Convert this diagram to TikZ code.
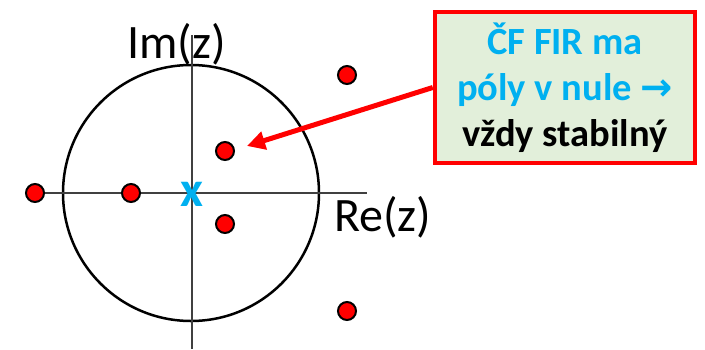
\documentclass[tikz,border=0pt]{standalone}
\usepackage{fontspec}
\setmainfont{Carlito}
\newfontfamily\symfont{DejaVu Sans}
\usetikzlibrary{arrows.meta}
\definecolor{pole-red}{HTML}{FF0000}
\definecolor{zero-blue}{HTML}{00B0F0}
\definecolor{note-green}{HTML}{E2EFDA}
\definecolor{axis-gray}{HTML}{404040}

\begin{document}
\begin{tikzpicture}[x=1pt, y=-1pt,
        every node/.style={inner sep=0pt},
        pole/.style={circle, draw=black, line width=2pt, fill=pole-red, minimum size=18pt},
        axislabel/.style={font=\fontsize{48}{56}\selectfont, anchor=base west},
        note/.style={draw=pole-red, line width=4.5pt, fill=note-green,
          minimum width=260pt, minimum height=151pt, align=center,
          font=\bfseries\fontsize{38.5}{46}\selectfont}]
      \useasboundingbox (0,0) rectangle (705,349);
      % z-plane
      \coordinate (o) at (191,193);
      \coordinate (re-start) at (35,193);
      \coordinate (re-end) at (367,193);
      \coordinate (im-top) at (192,35);
      \coordinate (im-bottom) at (192,349);
      \draw[line width=2.5pt] (o) circle (128pt);
      \draw[axis-gray, line width=1.4pt] (re-start) -- (re-end);
      \draw[axis-gray, line width=1.4pt] (im-top) -- (im-bottom);
      \node[axislabel] (im) at (127,58) {Im(z)};
      \node[axislabel] (re) at (334,231) {Re(z)};
      % poles and the zero
      \node[pole] (p1) at (35,193) {};
      \node[pole] (p2) at (131,193) {};
      \node[pole] (p3) at (225,151) {};
      \node[pole] (p4) at (225,224) {};
      \node[pole] (p5) at (347,75) {};
      \node[pole] (p6) at (347,311) {};
      \node[text=zero-blue, font=\bfseries\fontsize{50}{54}\selectfont] (zero) at (192,194) {x};
      % note
      \node[note] (note) at (565,87.5)
        {\textcolor{zero-blue}{ČF FIR ma}\\
         \textcolor{zero-blue}{póly v nule {\symfont →}}\\
         vždy stabilný};
      \coordinate (tip) at (247,146);
      \draw[pole-red, line width=5pt, -{Triangle[length=18pt, width=18pt]}] (note.west) -- (tip);
    \end{tikzpicture}
\end{document}
